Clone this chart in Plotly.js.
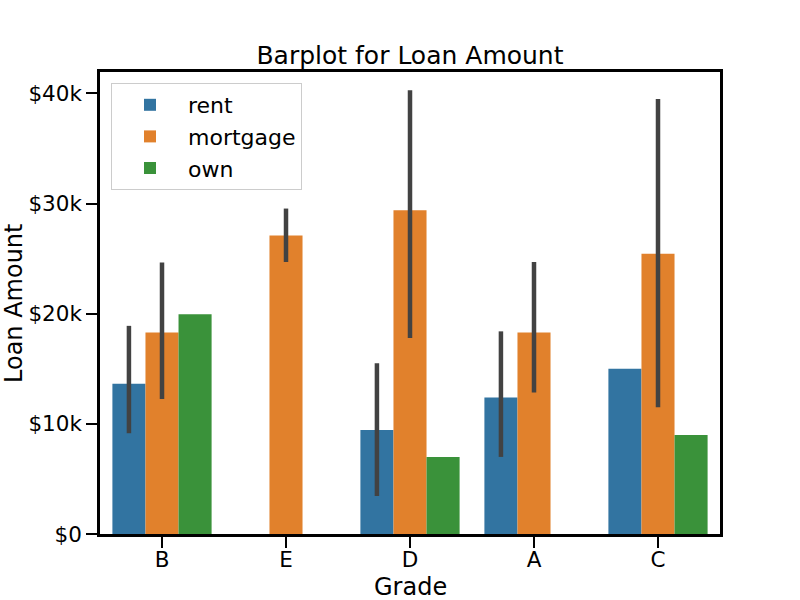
<!DOCTYPE html>
<html>
<head>
<meta charset="utf-8">
<script src="https://cdn.plot.ly/plotly-3.0.1.min.js"></script>
<style>
  html, body { margin: 0; padding: 0; background: #fff; }
  #chart { width: 800px; height: 600px; }
</style>
</head>
<body>
<div id="chart"></div>
<script>
(function () {
  "use strict";

  // Mean loan amount per grade and home ownership, with the CI ends.
  const grades = ["B", "E", "D", "A", "C"];

  const rentMean = [13650, null, 9450, 12400, 15000];
  const rentLow = [9150, null, 3450, 7000, null];
  const rentHigh = [18900, null, 15500, 18400, null];

  const mortgageMean = [18300, 27100, 29400, 18300, 25450];
  const mortgageLow = [12250, 24700, 17800, 12850, 11500];
  const mortgageHigh = [24650, 29550, 40300, 24700, 39500];

  const ownMean = [19950, null, 7000, null, 9000];
  const ownLow = [null, null, null, null, null];
  const ownHigh = [null, null, null, null, null];

  const yTickValues = [0, 10000, 20000, 30000, 40000];
  const yTickLabels = ["$0", "$10k", "$20k", "$30k", "$40k"];

  const FONT = "DejaVu Sans, sans-serif";
  const INK = "#000000";
  const ERR = "#424242";
  const TICK_SIZE = 21.5;
  const LABEL_SIZE = 24;

  // Plot box in pixels: left 100, right 720, top 72, bottom 534.
  const PLOT_W = 620;
  const PLOT_H = 462;

  function errorBars(mean, low, high) {
    return {
      type: "data",
      symmetric: false,
      array: mean.map((m, i) => (m === null || high[i] === null ? 0 : high[i] - m)),
      arrayminus: mean.map((m, i) => (m === null || low[i] === null ? 0 : m - low[i])),
      color: ERR,
      thickness: 4.5,
      width: 0,
    };
  }

  function barTrace(name, mean, low, high, color) {
    return {
      type: "bar",
      name: name,
      x: grades,
      y: mean,
      marker: { color: color, line: { width: 0 } },
      error_y: errorBars(mean, low, high),
      hoverinfo: "x+y+name",
    };
  }

  const traces = [
    barTrace("rent", rentMean, rentLow, rentHigh, "#3274a1"),
    barTrace("mortgage", mortgageMean, mortgageLow, mortgageHigh, "#e1812c"),
    barTrace("own", ownMean, ownLow, ownHigh, "#3a923a"),
  ];

  const AXIS = {
    showgrid: false,
    zeroline: false,
    showline: true,
    linecolor: INK,
    linewidth: 2.5,
    mirror: true,
    ticks: "outside",
    ticklen: 11,
    tickwidth: 2.2,
    tickcolor: INK,
    tickfont: { family: FONT, size: TICK_SIZE, color: INK },
  };

  const layout = {
    width: 800,
    height: 600,
    paper_bgcolor: "#ffffff",
    plot_bgcolor: "#ffffff",
    font: { family: FONT, color: INK, size: TICK_SIZE },
    margin: { l: 100, r: 80, t: 72, b: 66 },
    barmode: "group",
    bargap: 0.2,
    bargroupgap: 0,
    showlegend: true,
    title: {
      text: "Barplot for Loan Amount",
      font: { family: FONT, size: 25, color: INK },
      x: 410 / 800,
      xanchor: "center",
      xref: "container",
      y: 1 - 55 / 600,
      yanchor: "middle",
      yref: "container",
    },
    xaxis: Object.assign({}, AXIS, {
      type: "category",
      range: [-0.5, 4.5],
      ticklabelstandoff: -7,
    }),
    yaxis: Object.assign({}, AXIS, {
      range: [0, 41950],
      tickmode: "array",
      tickvals: yTickValues,
      ticktext: yTickLabels,
    }),
    // Axis titles as annotations so they sit where the reference puts them.
    annotations: [
      {
        text: "Grade",
        xref: "paper", yref: "paper",
        x: 0.5, y: -(587 - 534) / PLOT_H,
        xanchor: "center", yanchor: "middle",
        height: 26,
        showarrow: false,
        font: { family: FONT, size: LABEL_SIZE, color: INK },
      },
      {
        text: "Loan Amount",
        xref: "paper", yref: "paper",
        x: (14 - 100) / PLOT_W, y: 0.5,
        xanchor: "center", yanchor: "middle",
        textangle: -90,
        showarrow: false,
        font: { family: FONT, size: LABEL_SIZE, color: INK },
      },
    ],
    legend: {
      x: 11 / PLOT_W,
      y: 1 - 11 / PLOT_H,
      xanchor: "left",
      yanchor: "top",
      bgcolor: "rgba(255,255,255,0.8)",
      bordercolor: "#cccccc",
      borderwidth: 1,
      font: { family: FONT, size: 22, color: INK },
      itemwidth: 66,
    },
  };

  Plotly.newPlot("chart", traces, layout, { displayModeBar: false, responsive: false });
})();
</script>
</body>
</html>
